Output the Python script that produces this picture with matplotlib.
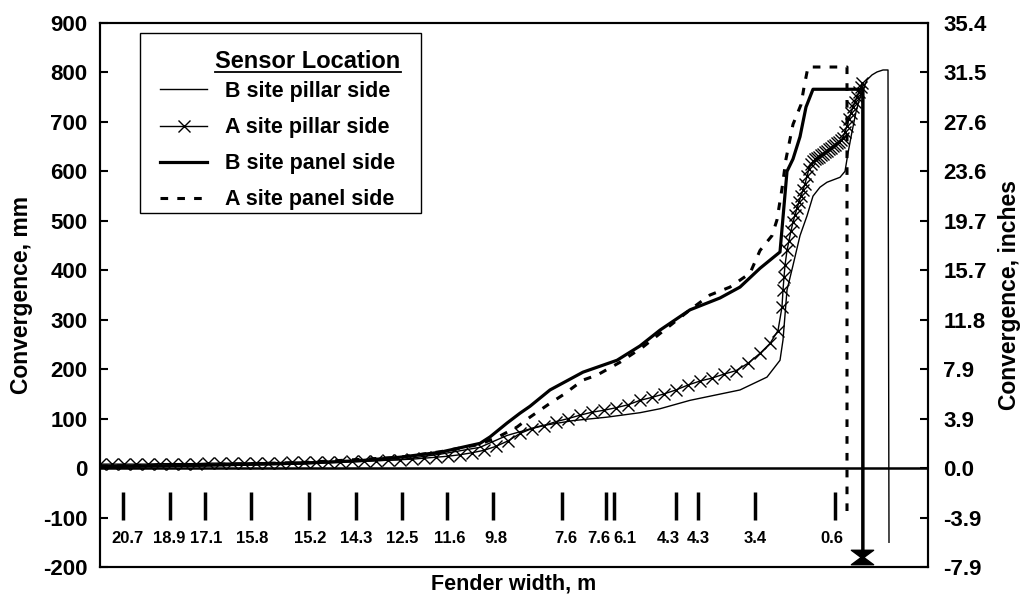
import matplotlib
matplotlib.use("Agg")
import matplotlib.pyplot as plt
from matplotlib.path import Path
from matplotlib.lines import Line2D
from matplotlib.patches import Rectangle

plt.rcParams['font.family'] = ['Liberation Sans', 'DejaVu Sans']
plt.rcParams['font.weight'] = 'bold'
plt.rcParams['axes.labelweight'] = 'bold'

# ---------------- data ----------------
# horizontal position along the fender (arbitrary distance units, 0..82.8)
b_pillar_x = [0, 10, 20, 30, 34, 38, 40.7, 44, 47.3, 50.7, 54, 56, 59, 64, 66.7, 68, 68.3, 68.7,
              69.3, 70, 70.7, 71.3, 72, 72.7, 74, 74.5, 74.8, 75.2, 75.6, 76, 76.4, 76.7, 77.2,
              77.7, 78.3, 78.8, 78.9]
b_pillar_y = [2, 4, 8, 17, 28, 42, 66, 85, 96, 103, 112, 120, 137, 158, 184, 218, 259, 360,
              410, 470, 510, 550, 568, 578, 588, 600, 637, 680, 720, 750, 770, 785, 795,
              801, 805, 805, -150]

a_pillar_x = [0.0, 1.2, 2.4, 3.6, 4.8, 6.0, 7.2, 8.4, 9.6, 10.8, 12.0, 13.2, 14.4, 15.6, 16.8,
              18.0, 19.2, 20.4, 21.6, 22.8, 24.0, 25.2, 26.4, 27.6, 28.8, 30.0, 31.2, 32.4, 33.6,
              34.8, 36.0, 37.2, 38.4, 39.6,
              40.8, 42.0, 43.2, 44.4, 45.6, 46.8, 48.0, 49.2, 50.4, 51.6, 52.8, 54.0, 55.2, 56.4,
              57.6, 58.8, 60.0, 61.2, 62.4, 63.6, 64.8, 66.0, 67.0, 67.8,
              68.2, 68.3, 68.4, 68.5, 68.7, 68.9, 69.1, 69.3, 69.5, 69.7, 69.9, 70.1, 70.3, 70.5,
              70.7, 70.9, 71.1,
              71.3, 71.5, 71.7, 71.9, 72.1, 72.3, 72.5, 72.7, 72.9, 73.1, 73.3, 73.5, 73.7, 73.9,
              74.1, 74.3,
              74.5, 74.7, 74.9, 75.1, 75.3, 75.5, 75.7, 75.9, 76.1, 76.2, 76.2]
a_pillar_y = [8, 8, 8, 8, 8, 9, 9, 9, 9, 10, 10, 10, 10, 11, 11,
              11, 12, 12, 12, 13, 13, 14, 14, 15, 16, 17, 18, 20, 22,
              24, 27, 31, 36, 44,
              55, 70, 80, 86, 94, 100, 107, 113, 117, 122, 128, 137, 143, 150,
              158, 168, 176, 182, 190, 197, 212, 232, 252, 278,
              326, 360, 386, 410, 440, 460, 480, 497, 512, 525, 538, 550, 562, 575,
              590, 605, 615,
              620, 624, 627, 630, 633, 636, 639, 642, 645, 648, 651, 654, 657, 660,
              663, 668,
              680, 692, 705, 718, 730, 740, 750, 760, 770, 778, -180]

b_panel_x = [0, 10, 20, 26, 30, 34, 38, 39, 40.7, 42, 43, 45, 48.3, 51.7, 54, 56, 59, 62, 64, 66,
             68, 68.4, 68.7, 69.3, 70, 70.6, 71.3, 76.3, 76.3]
b_panel_y = [3, 6, 10, 15, 22, 32, 50, 63, 91, 111, 125, 158, 194, 218, 247, 279, 320, 344, 366, 404,
             437, 530, 600, 625, 670, 730, 766, 766, -172]

a_panel_x = [0, 10, 20, 30, 34, 38, 40, 41.7, 43, 45, 46.3, 48.3, 49.7, 52, 54.3, 59, 61, 63, 65,
             66, 67.2, 67.7, 68.2, 68.6, 69.3, 70.1, 70.4, 70.8, 74.7, 74.7]
a_panel_y = [4, 7, 11, 22, 33, 48, 65, 83, 103, 131, 148, 178, 188, 214, 245, 320, 350, 366, 394,
             440, 470, 502, 565, 625, 695, 735, 770, 811, 811, -95]

legend_title = "Sensor Location"
series_labels = ["B site pillar side", "A site pillar side", "B site panel side", "A site panel side"]

# fender width markers drawn inside the plot
width_mark_x = [2.3, 7.0, 10.5, 15.1, 20.9, 25.6, 30.2, 34.7, 39.3, 46.2, 50.6, 51.4, 57.6, 59.8, 65.5, 73.5]
width_label_x = [2.7, 6.9, 10.6, 15.2, 21.0, 25.6, 30.2, 35.0, 39.6, 46.6, 49.9, 52.5, 56.8, 59.8, 65.5, 73.2]
width_labels = ["20.7", "18.9", "17.1", "15.8", "15.2", "14.3", "12.5", "11.6", "9.8",
                "7.6", "7.6", "6.1", "4.3", "4.3", "3.4", "0.6"]

mm_ticks = [-200, -100, 0, 100, 200, 300, 400, 500, 600, 700, 800, 900]
mm_tick_labels = ["-200", "-100", "0", "100", "200", "300", "400", "500", "600", "700", "800", "900"]
inch_tick_labels = ["-7.9", "-3.9", "0.0", "3.9", "7.9", "11.8", "15.7", "19.7", "23.6", "27.6", "31.5", "35.4"]
MM_PER_INCH = 25.4

# ---------------- figure ----------------
W, H = 1026, 599
AX_L, AX_R, AX_T, AX_B = 100, 928, 23, 567  # axes box in pixels
fig = plt.figure(figsize=(W / 100, H / 100), dpi=100)
ax = fig.add_axes([AX_L / W, 1 - AX_B / H, (AX_R - AX_L) / W, (AX_B - AX_T) / H])
ax.set_xlim(0, 82.8)
ax.set_ylim(-200, 900)


def afx(px):
    return (px - AX_L) / (AX_R - AX_L)


def afy(py):
    return (AX_B - py) / (AX_B - AX_T)


ax.axhline(0, color='black', lw=1.8, zorder=1)

l1, = ax.plot(b_pillar_x, b_pillar_y, color='black', lw=1.0)
l2, = ax.plot(a_pillar_x, a_pillar_y, color='black', lw=1.0, marker='x', ms=8, mew=1.0,
              markevery=slice(0, len(a_pillar_x) - 1))
hourglass = Path([(-1, 0.65), (1, 0.65), (0.12, 0), (1, -0.65), (-1, -0.65), (-0.12, 0), (-1, 0.65)],
                 [Path.MOVETO] + [Path.LINETO] * 5 + [Path.CLOSEPOLY])
ax.plot(a_pillar_x[-1:], a_pillar_y[-1:], ls='none', marker=hourglass, ms=16, color='black')
l3, = ax.plot(b_panel_x, b_panel_y, color='black', lw=2.3)
l4, = ax.plot(a_panel_x, a_panel_y, color='black', lw=2.2, dashes=(2.5, 3))

ax.vlines(width_mark_x, -105, -48, color='black', lw=2.5)
for xv, lab in zip(width_label_x, width_labels):
    ax.text(xv, -143, lab, ha='center', va='center', fontsize=12, fontweight='bold')

ax.set_xticks([])
ax.set_yticks(mm_ticks)
ax.set_yticklabels(mm_tick_labels)
ax.tick_params(axis='y', direction='in', length=6, width=1.5, labelsize=16, pad=9)
for s in ax.spines.values():
    s.set_linewidth(1.5)

ax.set_ylabel("Convergence, mm", fontsize=16.5, fontweight='bold', labelpad=7)
ax.set_xlabel("Fender width, m", fontsize=15.5, fontweight='bold', labelpad=5)

ax2 = ax.twinx()
ax2.set_ylim(-200 / MM_PER_INCH, 900 / MM_PER_INCH)
ax2.set_yticks([v / MM_PER_INCH for v in mm_ticks])
ax2.set_yticklabels(inch_tick_labels)
ax2.tick_params(axis='y', direction='in', length=6, width=1.5, labelsize=16, pad=11)
for s in ax2.spines.values():
    s.set_linewidth(1.5)
ax2.set_ylabel("Convergence, inches", fontsize=16.5, fontweight='bold', labelpad=8)

# legend: frame drawn as a rectangle, title as text, entries via legend()
ax.add_patch(Rectangle((afx(140), afy(213)), afx(421) - afx(140), afy(33) - afy(213),
                       transform=ax.transAxes, facecolor='white', edgecolor='black',
                       lw=1.0, zorder=4))
title_txt = ax.text(afx(308), afy(62), legend_title, transform=ax.transAxes, ha='center',
                    va='center', fontsize=17, fontweight='bold', zorder=6)
leg = ax.legend([l1, l2, l3, l4], series_labels, loc='upper left',
                bbox_to_anchor=(afx(160), afy(81)), borderaxespad=0, borderpad=0,
                prop={'weight': 'bold', 'size': 15.5}, frameon=False,
                handlelength=2.2, handletextpad=0.8, labelspacing=0.7)
leg.set_zorder(6)

fig.canvas.draw()
r = fig.canvas.get_renderer()
tb = title_txt.get_window_extent(r)
fig.add_artist(Line2D([tb.x0 / W, tb.x1 / W], [(tb.y0 + 2) / H, (tb.y0 + 2) / H],
                      transform=fig.transFigure, color='black', lw=1.3))

fig.savefig("out.png", dpi=100)
